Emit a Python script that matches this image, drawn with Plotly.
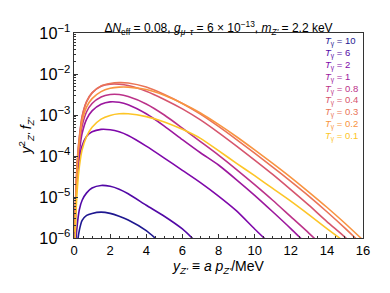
import plotly.graph_objects as go

# x grid (y_Z' = a p_Z' / MeV)
y_grid = [0.05, 0.1, 0.2, 0.3, 0.45, 0.7, 1.0, 1.5, 2.0, 2.5, 3.0, 4.0, 5.0, 6.0,
          7.0, 8.0, 9.0, 10.0, 11.0, 12.0, 13.0, 14.0, 15.0, 16.0]

# y_Z'^2 f_Z', one list per T_gamma
f_T10 = [3.16e-8, 1.0e-7, 7.94e-7, 1.58e-6, 2.69e-6, 3.55e-6, 3.98e-6, 4.27e-6, 3.98e-6,
         3.39e-6, 2.75e-6, 1.51e-6, 6.31e-7]
f_T6 = [1.0e-7, 7.94e-7, 2.51e-6, 5.01e-6, 8.32e-6, 1.26e-5, 1.66e-5, 1.91e-5, 1.82e-5,
        1.55e-5, 1.20e-5, 6.31e-6, 3.39e-6, 1.66e-6, 6.31e-7]
f_T2 = [7.94e-7, 6.31e-6, 3.98e-5, 8.91e-5, 1.78e-4, 3.02e-4, 3.89e-4, 4.47e-4, 4.37e-4,
        3.89e-4, 3.16e-4, 1.74e-4, 8.91e-5, 4.47e-5, 2.24e-5, 1.05e-5, 4.57e-6, 1.66e-6, 6.31e-7]
f_T1 = [1.26e-6, 7.94e-6, 5.01e-5, 1.32e-4, 3.55e-4, 7.94e-4, 1.26e-3, 1.82e-3, 2.09e-3,
        2.04e-3, 1.78e-3, 1.07e-3, 5.37e-4, 2.51e-4, 1.20e-4, 6.03e-5, 2.63e-5, 1.10e-5,
        4.37e-6, 1.70e-6, 6.31e-7]
f_T08 = [1.41e-6, 1.0e-5, 7.08e-5, 2.0e-4, 5.37e-4, 1.20e-3, 1.91e-3, 2.75e-3, 3.16e-3,
         3.16e-3, 2.82e-3, 1.86e-3, 1.0e-3, 4.79e-4, 2.24e-4, 1.05e-4, 4.68e-5, 2.0e-5,
         8.32e-6, 3.31e-6, 1.32e-6, 5.0e-7]
f_T04 = [1.78e-6, 1.26e-5, 1.0e-4, 3.02e-4, 9.33e-4, 2.14e-3, 3.47e-3, 5.01e-3, 5.62e-3,
         5.62e-3, 5.25e-3, 3.80e-3, 2.40e-3, 1.41e-3, 7.59e-4, 3.72e-4, 1.74e-4, 7.94e-5,
         3.55e-5, 1.51e-5, 6.31e-6, 2.51e-6, 1.05e-6, 4.0e-7]
f_T03 = [1.6e-6, 1.1e-5, 8.9e-5, 2.8e-4, 8.9e-4, 2.1e-3, 3.47e-3, 5.13e-3, 5.89e-3,
         6.17e-3, 6.03e-3, 4.79e-3, 3.16e-3, 1.91e-3, 1.05e-3, 5.25e-4, 2.51e-4, 1.17e-4,
         5.37e-5, 2.40e-5, 1.05e-5, 4.37e-6, 1.74e-6, 6.6e-7]
f_T02 = [1.41e-6, 1.0e-5, 7.94e-5, 2.40e-4, 7.08e-4, 1.58e-3, 2.51e-3, 3.72e-3, 4.47e-3,
         4.79e-3, 4.79e-3, 4.17e-3, 3.02e-3, 1.91e-3, 1.12e-3, 5.89e-4, 2.95e-4, 1.41e-4,
         6.61e-5, 3.02e-5, 1.32e-5, 5.62e-6, 2.29e-6, 8.9e-7]
f_T01 = [5.0e-7, 3.16e-6, 2.0e-5, 5.62e-5, 1.41e-4, 3.02e-4, 5.01e-4, 7.94e-4, 9.77e-4,
         1.07e-3, 1.07e-3, 9.12e-4, 6.76e-4, 4.47e-4, 2.69e-4, 1.35e-4, 6.61e-5, 3.31e-5,
         1.62e-5, 7.94e-6, 3.72e-6, 1.70e-6, 7.94e-7]

labels = ["10", "6", "2", "1", "0.8", "0.4", "0.3", "0.2", "0.1"]
series = [f_T10, f_T6, f_T2, f_T1, f_T08, f_T04, f_T03, f_T02, f_T01]
colors = ["#1e1790", "#5208a6", "#7e07aa", "#9c179e", "#bb3289", "#d6556d",
          "#ea7457", "#f89441", "#fdc527"]

fig = go.Figure()
for lab, vals, col in zip(labels, series, colors):
    fig.add_trace(go.Scatter(
        x=y_grid[:len(vals)], y=vals, mode="lines",
        line=dict(color=col, width=1.6, shape="spline", smoothing=0.6),
        name="T = " + lab, showlegend=False, hoverinfo="skip"))

font_family = "Liberation Sans, Arial, sans-serif"

# legend as coloured text
for i, (lab, col) in enumerate(zip(labels, colors)):
    fig.add_annotation(
        x=0.862, y=0.958 - i * 0.0578, xref="paper", yref="paper",
        xanchor="left", yanchor="middle", showarrow=False,
        text="<i>T</i><sub>γ</sub> = " + lab,
        font=dict(family=font_family, size=9.5, color=col))

fig.update_layout(
    width=390, height=293,
    margin=dict(l=74, r=27, t=33, b=55),
    paper_bgcolor="white", plot_bgcolor="white",
    font=dict(family=font_family, color="black"),
    title=dict(
        text="Δ<i>N</i><sub>eff</sub> = 0.08, <i>g</i><sub><i>μ−τ</i></sub> = 6 × 10<sup>−13</sup>, "
             "<i>m</i><sub><i>Z'</i></sub> = 2.2 keV",
        x=0.5, xref="paper", xanchor="center",
        y=1, yref="paper", yanchor="bottom", pad=dict(b=1),
        font=dict(size=12, family=font_family)),
    xaxis=dict(
        range=[0, 16], dtick=2, tick0=0, automargin=False,
        showline=True, linecolor="#333", linewidth=1, mirror=True,
        ticks="inside", ticklen=4, tickcolor="#333",
        minor=dict(dtick=0.5, ticks="inside", ticklen=2, tickcolor="#333"),
        showgrid=False, zeroline=False,
        tickfont=dict(size=13),
        title=dict(text="<i>y</i><sub><i>Z'</i></sub> ≡ <i>a p</i><sub><i>Z'</i></sub>/MeV",
                   font=dict(size=14), standoff=2)),
    yaxis=dict(
        type="log", range=[-6, -1], dtick=1, automargin=False,
        exponentformat="power", showexponent="all",
        showline=True, linecolor="#333", linewidth=1, mirror=True,
        ticks="inside", ticklen=4, tickcolor="#333",
        minor=dict(dtick="D1", ticks="inside", ticklen=2, tickcolor="#333"),
        showgrid=False, zeroline=False,
        tickfont=dict(size=13),
        title=dict(text="<i>y</i><sup>2</sup><sub><i>Z'</i></sub> <i>f</i><sub><i>Z'</i></sub>",
                   font=dict(size=14), standoff=4)),
)

fig.write_html("out.html", config={"displayModeBar": False},
               post_script="document.body.style.margin='0';document.body.style.padding='0';")
